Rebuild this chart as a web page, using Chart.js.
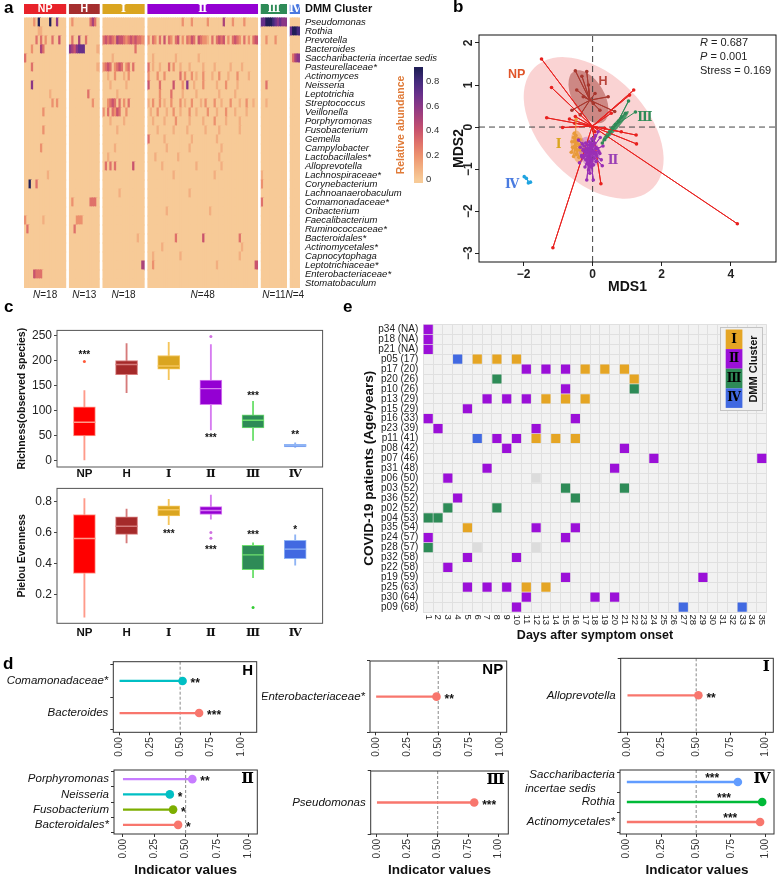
<!DOCTYPE html>
<html>
<head>
<meta charset="utf-8">
<title>DMM clusters of the oral microbiome</title>
<script src="https://cdn.jsdelivr.net/npm/chart.js@4.4.1/dist/chart.umd.min.js"></script>
<style>
  html, body { margin: 0; padding: 0; background: #fff; overflow: hidden; }
  #fig { position: relative; width: 780px; height: 875px; overflow: hidden; background: #fff; }
  #fig canvas { position: absolute; }
  .tag { position: absolute; font: bold 17px 'Liberation Sans', Arial, sans-serif; line-height: 1; color: #000; }
</style>
</head>
<body>
<div id="fig">
  <canvas id="heat"></canvas>
  <canvas id="cbar"></canvas>
  <canvas id="nmds"></canvas>
  <canvas id="rich"></canvas>
  <canvas id="even"></canvas>
  <canvas id="visits"></canvas>
  <canvas id="dH"></canvas>
  <canvas id="dII"></canvas>
  <canvas id="dNP"></canvas>
  <canvas id="dIII"></canvas>
  <canvas id="dI"></canvas>
  <canvas id="dIV"></canvas>
  <div class="tag" style="left:4px;top:-1px">a</div>
  <div class="tag" style="left:453px;top:-2px">b</div>
  <div class="tag" style="left:4px;top:298px">c</div>
  <div class="tag" style="left:3px;top:655px">d</div>
  <div class="tag" style="left:343px;top:298px">e</div>
</div>
<script>
// ---------------- data ----------------
const clusterNames = ['NP', 'H', 'Ⅰ', 'Ⅱ', 'Ⅲ', 'Ⅳ'];
const clusterSizes = [18, 13, 18, 48, 11, 4];
const clusterColors = ['#E8222A', '#A52F2F', '#DAA520', '#9400D3', '#2E8B57', '#4A78E0'];

// panel a: taxa and relative abundance per sample (one char per sample, digit = tenths, '.' = ~0)
const heatSpecies = ['Pseudomonas', 'Rothia', 'Prevotella', 'Bacteroides', 'Saccharibacteria incertae sedis',
  'Pasteurellaceae*', 'Actinomyces', 'Neisseria', 'Leptotrichia', 'Streptococcus', 'Veillonella',
  'Porphyromonas', 'Fusobacterium', 'Gemella', 'Campylobacter', 'Lactobacillales*', 'Alloprevotella',
  'Lachnospiraceae*', 'Corynebacterium', 'Lachnoanaerobaculum', 'Comamonadaceae*', 'Oribacterium',
  'Faecalibacterium', 'Ruminococcaceae*', 'Bacteroidales*', 'Actinomycetales*', 'Capnocytophaga',
  'Leptotrichiaceae*', 'Enterobacteriaceae*', 'Stomatobaculum'];
const heatRows = [
  '....2.9....9..6...|.2.......353.|..................|...............2...2......2......5...2....2.....|77999876766|....',
  '......11..........|.............|..................|................................................|...........|7998',
  '.....3.3.2..3..4..|.3..5..3.....|343432544323434332|2.32.3.4.32.34.2.3243.43221.3.3434.2.3432.3.2.34|..2...2....|....',
  '...2...53.........|6546777.....1|..............3...|................................................|...........|....',
  '3.................|.............|....1.............|..1.........1.........1.........................|...........|.356',
  '...3..............|............1|2343.2343.23.3....|3.1..1...3.2..1...1.....1....1......1....1.....|...........|....',
  '..................|.............|..1..2...1.2......|2...2..2......3.2..2.1..2...1..2...1...2....1..|...........|....',
  '...6..............|.............|...1......1.......|4....3.....4...2.6..1...2.....1...2....1.......|..3........|....',
  '...........1......|........3....|......1...........|.....2....3....1.....1.........1......1........|...........|....',
  '............2.2...|..........2..|..2343.3.2.3......|1.2..2.1..2...2.1..2...1.2...2..1...2...1..2..1.|..1........|....',
  '........2.........|.............|2.3.3243..2.......|.1..2...1..2..1...2..1....2...1...2...1....1...|...........|....',
  '..................|.............|...1.....1........|..1....1....2.....1.....1....2....1.....1......|...........|....',
  '........2.........|.............|......1...........|....1......1.....1.......1.....1........1......|...........|....',
  '..................|.............|..................|3......1...........1..........1................|...........|....',
  '.......2..........|.............|.....1............|........1.........1.............1...............|...........|....',
  '..................|.............|..1...............|...1.........1.................1................|...........|....',
  '..................|.............|.3.3.3.......4....|......1..............1..........1...............|...........|....',
  '..........1.......|.............|..................|...........1.................1..................|1..........|....',
  '..9..3............|.............|..................|................................................|2..........|....',
  '..................|.............|.......1..........|..................1.............................|...........|....',
  '..................|.2.......333.|..................|................................................|3..........|....',
  '..................|.............|..................|........1..................1....................|...........|....',
  '2.......1.........|...222.......|..................|................................................|...........|....',
  '.3................|..3..........|..................|................................................|...........|....',
  '..................|.............|...............1..|............3...........4...............3.......|...........|....',
  '..................|.............|..................|......1..................................1......|...........|....',
  '..................|.............|..................|..1...........1.........................1.......|...........|....',
  '..................|.............|.................5|..2...........................1................4|...........|....',
  '....4333..........|.............|..................|................................................|...........|....',
  '..................|.............|..................|................................................|...........|....'
];
const heatStops = ['#F7CA97', '#F2AE80', '#EC906E', '#DF716A', '#C9536D', '#AA4379', '#8A3786', '#67308A', '#442A7C', '#211F58'];
const cbarTicks = [0, 0.2, 0.4, 0.6, 0.8];

// panel b: NMDS coordinates per group, group centroids and 95% ellipses
const nmdsNP = [[-1.48, 1.62], [-1.19, 0.94], [-1.33, 0.22], [-0.87, -0.01], [-0.67, 0.19], [-0.50, 0.25],
  [-0.52, 0.09], [1.19, 0.88], [1.07, 0.76], [0.54, 0.33], [1.26, -0.19], [1.27, -0.40], [4.19, -2.30],
  [-1.15, -2.87], [0.24, -1.35], [0.07, -0.11], [0.35, -0.03], [0.83, -0.11]];
const nmdsH = [[-0.50, 1.34], [-0.31, 1.21], [-0.17, 1.32], [-0.46, 0.88], [-0.60, 0.40], [-0.36, 0.29],
  [-0.12, 1.00], [0.07, 0.80], [0.45, 0.72], [0.64, 0.37], [0.21, 0.40], [-0.27, 0.72], [0.02, 0.56]];
const nmdsI = [[-0.55, -0.25], [-0.48, -0.20], [-0.42, -0.28], [-0.60, -0.35], [-0.52, -0.33], [-0.45, -0.38],
  [-0.38, -0.42], [-0.58, -0.48], [-0.50, -0.52], [-0.44, -0.55], [-0.36, -0.30], [-0.62, -0.60],
  [-0.47, -0.65], [-0.40, -0.72], [-0.55, -0.70], [-0.35, -0.55], [-0.53, -0.15], [-0.48, 0.18]];
const nmdsII = [[-0.30, -0.40], [-0.25, -0.45], [-0.20, -0.38], [-0.15, -0.42], [-0.10, -0.35], [-0.05, -0.40],
  [0.00, -0.45], [0.05, -0.38], [0.10, -0.48], [0.15, -0.52], [-0.28, -0.55], [-0.22, -0.60], [-0.18, -0.52],
  [-0.12, -0.58], [-0.06, -0.55], [0.02, -0.60], [0.08, -0.62], [0.12, -0.68], [0.18, -0.58], [-0.32, -0.68],
  [-0.26, -0.72], [-0.20, -0.78], [-0.14, -0.70], [-0.08, -0.75], [-0.02, -0.80], [0.04, -0.74], [0.10, -0.82],
  [-0.16, -0.88], [-0.10, -0.92], [-0.04, -0.95], [0.02, -0.90], [-0.22, -0.95], [-0.17, -1.26], [0.02, -1.26],
  [-0.08, -1.10], [0.28, -0.92], [0.21, -0.63], [0.16, -0.11], [0.22, -0.25], [-0.31, -0.71], [-0.41, -0.31],
  [-0.36, -0.48], [0.25, -0.78], [-0.12, -1.02], [0.30, -0.45], [-0.02, -0.28], [0.08, -0.20], [-0.38, -0.85]];
const nmdsIII = [[0.28, -0.38], [0.35, -0.30], [0.42, -0.22], [0.50, -0.12], [0.58, -0.03], [0.66, 0.06],
  [0.75, 0.14], [0.84, 0.24], [0.95, 0.33], [1.04, 0.62], [1.24, 0.36]];
const nmdsIV = [[-1.98, -1.18], [-1.92, -1.22], [-1.86, -1.33], [-1.80, -1.31]];
const nmdsCentroids = [[-0.01, 0.02], [-0.08, 0.64], [-0.50, -0.39], [-0.08, -0.59], [0.69, 0.06], [-1.89, -1.26]];
const nmdsEllipses = [
  { c: [0.03, -0.02], u: [1.72, -1.43], v: [1.07, 0.89], fill: 'rgba(240,120,120,0.33)' },
  { c: [-0.12, 0.72], u: [0.43, -0.60], v: [0.39, 0.195], fill: 'rgba(150,45,35,0.45)' },
  { c: [-0.43, -0.47], u: [0.057, -0.39], v: [0.20, 0.012], fill: 'rgba(235,150,50,0.5)' },
  { c: [-0.10, -0.59], u: [0.086, -0.357], v: [0.30, 0.024], fill: 'rgba(160,60,190,0.35)' },
  { c: [0.66, 0.02], u: [0.38, 0.357], v: [0.063, -0.048], fill: 'rgba(46,139,87,0.85)' }
];
const nmdsXTicks = [-2, 0, 2, 4];
const nmdsYTicks = [-3, -2, -1, 0, 1, 2];

// panel c: box plot statistics per group
const boxGroups = ['NP', 'H', 'Ⅰ', 'Ⅱ', 'Ⅲ', 'Ⅳ'];
const richLow = [2, 136, 162, 62, 41, 27];
const richQ1 = [50, 172, 183, 112, 66, 28];
const richMed = [77, 192, 189, 144, 81, 31];
const richQ3 = [108, 200, 210, 161, 92, 33];
const richHigh = [140, 234, 236, 232, 119, 36];
const richOutliers = [[1, 198], [4, 248]];
const richStars = ['***', '', '', '***', '***', '**'];
const richStarAt = [214, 0, 0, 50, 133, 55];
const evenLow = [0.058, 0.533, 0.65, 0.685, 0.311, 0.39];
const evenQ1 = [0.337, 0.588, 0.705, 0.715, 0.361, 0.432];
const evenMed = [0.561, 0.64, 0.745, 0.74, 0.456, 0.493];
const evenQ3 = [0.715, 0.70, 0.77, 0.765, 0.517, 0.549];
const evenHigh = [0.816, 0.75, 0.812, 0.84, 0.533, 0.584];
const evenOutliers = [[4, 0.60], [4, 0.562], [5, 0.119]];
const evenStars = ['', '', '***', '***', '***', '*'];
const evenStarAt = [0, 0, 0.60, 0.497, 0.594, 0.624];

// panel e: patients, days and the DMM cluster of each sample
const patientIds = ['p34', 'p18', 'p21', 'p05', 'p17', 'p20', 'p10', 'p13', 'p15', 'p16', 'p23', 'p11', 'p08', 'p07',
  'p31', 'p06', 'p03', 'p36', 'p02', 'p04', 'p35', 'p24', 'p28', 'p32', 'p22', 'p19', 'p25', 'p30', 'p09'];
const patientAges = ['NA', 'NA', 'NA', '17', '20', '26', '26', '29', '29', '33', '39', '41', '42', '46',
  '48', '50', '52', '52', '52', '53', '54', '57', '57', '58', '58', '59', '63', '64', '68'];
const dayLabels = ['1', '2', '3', '4', '5', '6', '7', '8', '9', '10', '11', '12', '13', '14', '15', '16', '17', '18',
  '19', '20', '21', '22', '23', '24', '25', '26', '27', '28', '29', '30', '31', '32', '33', '34', '35'];
const samplesI = [['p05', 6], ['p05', 8], ['p05', 10], ['p17', 17], ['p17', 19], ['p17', 21], ['p20', 22],
  ['p13', 13], ['p13', 15], ['p13', 17], ['p11', 12], ['p11', 14], ['p11', 16], ['p35', 5], ['p25', 11], ['p25', 13]];
const samplesII = [['p34', 1], ['p18', 1], ['p21', 1], ['p17', 11], ['p17', 13], ['p17', 15], ['p10', 15],
  ['p13', 7], ['p13', 9], ['p13', 11], ['p15', 5], ['p16', 1], ['p16', 16], ['p23', 2], ['p23', 12], ['p11', 8],
  ['p11', 10], ['p08', 9], ['p08', 21], ['p07', 24], ['p07', 35], ['p31', 7], ['p31', 20], ['p06', 3], ['p36', 4],
  ['p35', 12], ['p35', 16], ['p24', 1], ['p24', 15], ['p32', 5], ['p32', 10], ['p22', 3], ['p19', 15], ['p19', 29],
  ['p25', 5], ['p25', 7], ['p25', 9], ['p30', 11], ['p30', 18], ['p30', 20], ['p09', 10]];
const samplesIII = [['p20', 8], ['p10', 22], ['p03', 15], ['p03', 21], ['p36', 16], ['p02', 3], ['p02', 8],
  ['p04', 1], ['p04', 2], ['p28', 1]];
const samplesIV = [['p05', 4], ['p11', 6], ['p09', 27], ['p09', 33]];
const samplesNA = [['p06', 12], ['p28', 6], ['p28', 12]];

// panel d: indicator taxa
const IND_CUT = 0.5;
const indTicks = [0, 0.25, 0.5, 0.75, 1];
const indH = ['Comamonadaceae*', 'Bacteroides'];
const valH = [0.52, 0.656];
const starH = ['**', '***'];
const indII = ['Porphyromonas', 'Neisseria', 'Fusobacterium', 'Bacteroidales*'];
const valII = [0.553, 0.374, 0.40, 0.44];
const starII = ['**', '*', '*', '*'];
const indNP = ['Enterobacteriaceae*'];
const valNP = [0.486];
const starNP = ['**'];
const indIII = ['Pseudomonas'];
const valIII = [0.80];
const starIII = ['***'];
const indI = ['Alloprevotella'];
const valI = [0.516];
const starI = ['**'];
const indIV = ['Saccharibacteria incertae sedis', 'Rothia', 'Actinomycetales*'];
const valIV = [0.80, 0.975, 0.96];
const starIV = ['***', '***', '***'];

// ---------------- helpers ----------------
const SANS = "'Liberation Sans', Arial, Helvetica, sans-serif";
const ROMAN = "'DejaVu Serif', 'Noto Sans CJK SC', serif";
const isRoman = s => /[\u2160-\u216B]/.test(s);
const famOf = s => isRoman(s) ? ROMAN : SANS;
const f = (size, weight, style, family) => ({ family: family || SANS, size, weight: weight || 'normal', style: style || 'normal', lineHeight: 1.2 });
const css = (size, weight, style, family) => `${style || 'normal'} ${weight || 'normal'} ${size}px ${family || SANS}`;

Chart.defaults.font.family = SANS;
Chart.defaults.color = '#222';
Chart.defaults.animation = false;
Chart.defaults.responsive = false;
Chart.defaults.events = [];
Chart.defaults.plugins.legend.display = false;
Chart.defaults.plugins.tooltip.enabled = false;

function place(id, cv, area) {
  const el = document.getElementById(id);
  el.width = cv[2] - cv[0];
  el.height = cv[3] - cv[1];
  el.style.left = cv[0] + 'px';
  el.style.top = cv[1] + 'px';
  return { left: area[0] - cv[0], top: area[1] - cv[1], right: cv[2] - area[2], bottom: cv[3] - area[3] };
}
function fixAxis(size) {
  return s => {
    if (s.isHorizontal()) s.height = size; else s.width = size;
    s.paddingLeft = s.paddingRight = s.paddingTop = s.paddingBottom = 0;
  };
}
let pluginNo = 0;
function notes(items) {
  return {
    id: 'notes' + (pluginNo++),
    afterDatasetsDraw(chart) {
      const ctx = chart.ctx;
      items.forEach(n => {
        if (!n.text && !n.parts) return;
        const xs = chart.scales[n.xAxis || 'x'], ys = chart.scales[n.yAxis || 'y'];
        const px = (n.px !== undefined ? n.px : xs.getPixelForValue(n.x)) + (n.dx || 0);
        const py = (n.py !== undefined ? n.py : ys.getPixelForValue(n.y)) + (n.dy || 0);
        const parts = n.parts || [{ text: n.text, font: n.font }];
        ctx.save();
        ctx.translate(px, py);
        if (n.rotate) ctx.rotate(n.rotate);
        ctx.fillStyle = n.color || '#111';
        ctx.textBaseline = 'middle';
        ctx.textAlign = 'left';
        let w = 0;
        parts.forEach(p => { ctx.font = p.font; w += ctx.measureText(p.text).width; });
        let x0 = n.align === 'left' ? 0 : n.align === 'right' ? -w : -w / 2;
        parts.forEach(p => { ctx.font = p.font; ctx.fillText(p.text, x0, 0); x0 += ctx.measureText(p.text).width; });
        ctx.restore();
      });
    }
  };
}
function frame(color, width) {
  return {
    id: 'frame' + (pluginNo++),
    afterDatasetsDraw(chart) {
      const { ctx, chartArea: a } = chart;
      ctx.save();
      ctx.strokeStyle = color;
      ctx.lineWidth = width;
      ctx.strokeRect(a.left, a.top, a.right - a.left, a.bottom - a.top);
      ctx.restore();
    }
  };
}
function hexRgb(h) { return [1, 3, 5].map(i => parseInt(h.slice(i, i + 2), 16)); }
function heatColor(v) {
  const t = Math.max(0, Math.min(0.9, v)) / 0.1;
  const i = Math.min(8, Math.floor(t)), k = t - i;
  const a = hexRgb(heatStops[i]), b = hexRgb(heatStops[i + 1]);
  return `rgb(${a.map((c, j) => Math.round(c + (b[j] - c) * k)).join(',')})`;
}
function parseRow(s) {
  const segs = s.split('|'), out = [];
  clusterSizes.forEach((n, g) => {
    const seg = (segs[g] || '').padEnd(n, '.').slice(0, n);
    for (const ch of seg) out.push(ch === '.' ? 0 : Number(ch) / 10);
  });
  return out;
}

// ---------------- panel a: heat map ----------------
const HEAT_GAP = 1.7;
const colX = [], colGroup = [], groupSpan = [];
let xPos = 0;
clusterSizes.forEach((n, g) => {
  groupSpan.push([xPos, xPos + n]);
  for (let i = 0; i < n; i++) { colX.push(xPos + i + 0.5); colGroup.push(g); }
  xPos += n + HEAT_GAP;
});
const heatXMax = xPos - HEAT_GAP;
const heatCells = [];
heatRows.forEach((row, r) => {
  parseRow(row).forEach((v, c) => heatCells.push({ x: colX[c], y: [r - 0.06, r + 1.06], v }));
});
colX.forEach((x, c) => heatCells.push({ x, y: [-1.55, -0.45], g: colGroup[c] }));
const heatNotes = [];
groupSpan.forEach(([a, b], g) => {
  const mid = (a + b) / 2;
  heatNotes.push({ x: mid, y: -1, text: clusterNames[g], color: '#fff', font: css(10.5, 'bold', 'normal', famOf(clusterNames[g])) });
  heatNotes.push({ x: mid, py: 295, color: '#222',
    parts: [{ text: 'N', font: css(10, 'normal', 'italic') }, { text: '=' + clusterSizes[g], font: css(10) }] });
});

const hg = place('heat', [0, 0, 450, 300], [24, 3.6, 300, 288]);
new Chart('heat', {
  type: 'bar',
  data: { datasets: [{
    data: heatCells,
    backgroundColor: c => (c.raw && c.raw.g !== undefined) ? clusterColors[c.raw.g] : heatColor(c.raw ? c.raw.v : 0),
    borderWidth: 0, barPercentage: 1.5, categoryPercentage: 1, grouped: false
  }] },
  options: {
    layout: { padding: { left: hg.left, top: hg.top, right: 0, bottom: hg.bottom } },
    scales: {
      x: { type: 'linear', display: false, min: -0.25, max: heatXMax + 0.25, offset: false, grid: { offset: false } },
      y: { type: 'linear', position: 'right', min: -1.6, max: heatSpecies.length, reverse: true, offset: false,
        afterBuildTicks: s => { s.ticks = [{ value: -1 }].concat(heatSpecies.map((_, i) => ({ value: i + 0.5 }))); },
        afterFit: fixAxis(hg.right),
        ticks: { autoSkip: false, padding: 5, color: '#111',
          callback: (v, i) => i === 0 ? 'DMM Cluster' : heatSpecies[i - 1],
          font: c => c.index === 0 ? f(11, 'bold') : f(9.5, 'normal', 'italic') },
        grid: { display: false, drawTicks: false }, border: { display: false } }
    }
  },
  plugins: [notes(heatNotes)]
});

const cg = place('cbar', [390, 55, 450, 195], [414, 67, 423, 183]);
new Chart('cbar', {
  type: 'bar',
  data: { labels: [''], datasets: [{
    data: [[-0.03, 0.92]],
    backgroundColor: c => {
      const ch = c.chart;
      if (!ch.chartArea) return heatStops[0];
      const y = ch.scales.y;
      const grad = ch.ctx.createLinearGradient(0, y.getPixelForValue(0), 0, y.getPixelForValue(0.9));
      heatStops.forEach((col, i) => grad.addColorStop(i / (heatStops.length - 1), col));
      return grad;
    },
    borderWidth: 0, barPercentage: 1, categoryPercentage: 1
  }] },
  options: {
    layout: { padding: { left: 0, top: cg.top, right: 0, bottom: cg.bottom } },
    scales: {
      x: { display: false },
      y: { type: 'linear', position: 'right', min: -0.03, max: 0.92,
        afterBuildTicks: s => { s.ticks = cbarTicks.map(v => ({ value: v })); },
        afterFit: fixAxis(cg.right),
        ticks: { padding: 3, color: '#333', font: f(9.5), callback: v => v === 0 ? '0' : v.toFixed(1) },
        grid: { display: false, drawTicks: false }, border: { display: false } },
      y2: { type: 'linear', position: 'left', afterFit: fixAxis(cg.left),
        ticks: { display: false }, grid: { display: false, drawTicks: false }, border: { display: false },
        title: { display: true, text: 'Relative abundance', color: '#E07B39', font: f(10.5, 'bold'), padding: { top: 4.7, bottom: 0 } } }
    }
  }
});

// ---------------- panel b: NMDS ----------------
const nmdsGroups = [nmdsNP, nmdsH, nmdsI, nmdsII, nmdsIII, nmdsIV];
const nmdsLine = ['#E8201E', '#A8372E', '#E89A3A', '#9A2FB5', '#2E8B57', '#1FA3E0'];
const nmdsText = ['#E0552A', '#B8433A', '#DAA520', '#9A3FB5', '#2E8B57', '#4A7BE0'];
const nmdsOrder = [4, 5, 3, 2, 1, 1];
const nmdsLabelAt = [[-2.2, 1.26], [0.30, 1.08], [-0.98, -0.43], [0.59, -0.79], [1.51, 0.23], [-2.33, -1.38]];
const B_X = [-3.29, 5.31], B_Y = [-3.21, 2.19];
const minus = v => v < 0 ? '\u2212' + Math.abs(v) : String(v);

const ellipsePlugin = {
  id: 'ellipses',
  beforeDatasetsDraw(chart) {
    const { ctx, scales: { x, y }, chartArea: a } = chart;
    ctx.save();
    ctx.beginPath();
    ctx.rect(a.left, a.top, a.right - a.left, a.bottom - a.top);
    ctx.clip();
    nmdsEllipses.forEach(e => {
      const cx = x.getPixelForValue(e.c[0]), cy = y.getPixelForValue(e.c[1]);
      const ux = x.getPixelForValue(e.c[0] + e.u[0]) - cx, uy = y.getPixelForValue(e.c[1] + e.u[1]) - cy;
      const vx = x.getPixelForValue(e.c[0] + e.v[0]) - cx, vy = y.getPixelForValue(e.c[1] + e.v[1]) - cy;
      ctx.save();
      ctx.transform(ux, uy, vx, vy, cx, cy);
      ctx.beginPath();
      ctx.arc(0, 0, 1, 0, Math.PI * 2);
      ctx.restore();
      ctx.fillStyle = e.fill;
      ctx.fill();
    });
    ctx.restore();
  }
};
// rotated y tick labels of panel b, centred on each tick
const nmdsYLabels = {
  id: 'nmdsYLabels',
  afterDraw(chart) {
    const { ctx, chartArea: a, scales: { y } } = chart;
    ctx.save();
    ctx.font = css(12, 'bold'); ctx.fillStyle = '#222'; ctx.textAlign = 'center'; ctx.textBaseline = 'middle';
    nmdsYTicks.forEach(v => {
      ctx.save(); ctx.translate(a.left - 10, y.getPixelForValue(v)); ctx.rotate(-Math.PI / 2);
      ctx.fillText(minus(v), 0, 0); ctx.restore();
    });
    ctx.restore();
  }
};

const nmdsSets = nmdsGroups.map((pts, g) => ({
  type: 'line',
  data: pts.flatMap(p => [{ x: nmdsCentroids[g][0], y: nmdsCentroids[g][1] }, { x: p[0], y: p[1] }]),
  borderColor: nmdsLine[g], borderWidth: 1, tension: 0, fill: false,
  pointRadius: c => c.dataIndex % 2 ? 1.8 : 0, pointBackgroundColor: nmdsLine[g], pointBorderWidth: 0,
  order: nmdsOrder[g]
}));
nmdsSets.push({ type: 'line', data: [{ x: B_X[0], y: 0 }, { x: B_X[1], y: 0 }], borderColor: '#444', borderWidth: 1, borderDash: [6, 4], pointRadius: 0, order: 10 });
nmdsSets.push({ type: 'line', data: [{ x: 0, y: B_Y[0] }, { x: 0, y: B_Y[1] }], borderColor: '#444', borderWidth: 1, borderDash: [6, 4], pointRadius: 0, order: 10 });

const nmdsNotes = nmdsLabelAt.map((p, g) => ({ x: p[0], y: p[1], text: clusterNames[g], color: nmdsText[g], font: css(12.5, 'bold', 'normal', famOf(clusterNames[g])) }));
nmdsNotes.push({ px: 290, py: 43, align: 'left', color: '#222', parts: [{ text: 'R', font: css(11, 'normal', 'italic') }, { text: ' = 0.687', font: css(11) }] });
nmdsNotes.push({ px: 290, py: 57, align: 'left', color: '#222', parts: [{ text: 'P', font: css(11, 'normal', 'italic') }, { text: ' = 0.001', font: css(11) }] });
nmdsNotes.push({ px: 290, py: 71, align: 'left', color: '#222', text: 'Stress = 0.169', font: css(11) });

const ng = place('nmds', [410, 0, 780, 300], [479, 35, 779.5, 262]);
new Chart('nmds', {
  type: 'scatter',
  data: { datasets: nmdsSets },
  options: {
    layout: { padding: { left: 40, top: ng.top, right: ng.right, bottom: 0 } },
    scales: {
      x: { type: 'linear', min: B_X[0], max: B_X[1],
        afterBuildTicks: s => { s.ticks = nmdsXTicks.map(v => ({ value: v })); }, afterFit: fixAxis(ng.bottom),
        ticks: { callback: minus, font: f(12, 'bold'), color: '#222', padding: 1 },
        grid: { drawOnChartArea: false, tickLength: 4, color: '#222' }, border: { display: false },
        title: { display: true, text: 'MDS1', font: f(14, 'bold'), color: '#111', padding: { top: 0, bottom: 4.6 } } },
      y: { type: 'linear', min: B_Y[0], max: B_Y[1],
        afterBuildTicks: s => { s.ticks = nmdsYTicks.map(v => ({ value: v })); }, afterFit: fixAxis(ng.left - 40),
        ticks: { display: false },
        grid: { drawOnChartArea: false, tickLength: 4, color: '#222' }, border: { display: false },
        title: { display: true, text: 'MDS2', font: f(14, 'bold'), color: '#111', padding: { top: 0.5, bottom: 0 } } }
    }
  },
  plugins: [ellipsePlugin, frame('#111', 1), notes(nmdsNotes), nmdsYLabels]
});

// ---------------- panel c: box plots ----------------
const boxFill = ['#FF0000', '#A52A2A', '#DAA520', '#9400D3', '#2E8B57', '#4169E1'];
const boxLine = ['#FF9A8A', '#D67B7B', '#F5C55A', '#D67CF0', '#6EE06E', '#8FB4F5'];
const boxOut = ['#FF5A3A', '#C05050', '#E0A020', '#D070E0', '#33CC33', '#6090F0'];

function boxPlot(id, cv, area, s) {
  const g = place(id, cv, area);
  const items = s.stars.map((t, i) => ({ x: i + 1, y: s.starAt[i], dy: 2, text: t, font: css(10, 'bold'), color: '#111' }));
  new Chart(id, {
    type: 'bar',
    data: { datasets: [
      { type: 'scatter', data: s.med.map((v, i) => ({ x: i + 1, y: v })), pointStyle: 'line', pointRadius: 11,
        borderColor: boxLine, borderWidth: 1.4, order: 1 },
      { type: 'scatter', data: s.out.map(o => ({ x: o[0], y: o[1] })), pointRadius: 1.5,
        backgroundColor: s.out.map(o => boxOut[o[0] - 1]), borderWidth: 0, order: 1 },
      { type: 'bar', data: s.q1.map((v, i) => ({ x: i + 1, y: [v, s.q3[i]] })), backgroundColor: boxFill,
        borderColor: boxLine, borderWidth: 1, borderSkipped: false, barThickness: 22, grouped: false, order: 2 },
      { type: 'bar', data: s.low.map((v, i) => ({ x: i + 1, y: [v, s.high[i]] })), backgroundColor: boxLine,
        borderWidth: 0, barThickness: 1.2, grouped: false, order: 3 }
    ] },
    options: {
      layout: { padding: { left: 0, top: g.top, right: g.right, bottom: 0 } },
      scales: {
        x: { type: 'linear', min: 0.35, max: 6.65, offset: false,
          afterBuildTicks: sc => { sc.ticks = boxGroups.map((_, i) => ({ value: i + 1 })); }, afterFit: fixAxis(g.bottom),
          ticks: { callback: (v, i) => boxGroups[i], color: '#111', padding: s.xPad, autoSkip: false,
            font: c => f(11.5, 'bold', 'normal', famOf(boxGroups[c.index] || '')) },
          grid: { display: false, drawTicks: false, offset: false }, border: { display: false } },
        y: { type: 'linear', min: s.yMin, max: s.yMax, afterFit: fixAxis(g.left),
          ticks: { stepSize: s.step, includeBounds: false, font: f(12), color: '#222', padding: 2 },
          grid: { drawOnChartArea: false, tickLength: 3, color: '#444' }, border: { display: false },
          title: { display: true, text: s.title, font: f(10.5, 'bold'), color: '#111', padding: { top: 15.4, bottom: 0 } } }
      }
    },
    plugins: [frame('#555', 1), notes(items)]
  });
}
boxPlot('rich', [0, 318, 335, 480], [57, 325, 329, 467], {
  low: richLow, q1: richQ1, med: richMed, q3: richQ3, high: richHigh, out: richOutliers,
  stars: richStars, starAt: richStarAt, yMin: -12, yMax: 260, step: 50, title: 'Richness(observed species)', xPad: 0
});
boxPlot('even', [0, 476, 335, 642], [57, 480.7, 329, 623.3], {
  low: evenLow, q1: evenQ1, med: evenMed, q3: evenQ3, high: evenHigh, out: evenOutliers,
  stars: evenStars, starAt: evenStarAt, yMin: 0.018, yMax: 0.882, step: 0.2, title: 'Pielou Evenness', xPad: 2.5
});

// ---------------- panel e: samples per patient and day ----------------
const patientLabels = patientIds.map((p, i) => `${p} (${patientAges[i]})`);
const labelOf = id => patientLabels[patientIds.indexOf(id)];
const visitColors = ['#E5A524', '#9B10D8', '#2E8B57', '#4169E1', '#DCDCDC'];
const visitSets = [samplesI, samplesII, samplesIII, samplesIV, samplesNA].map((list, k) => ({
  data: list.map(s => ({ x: String(s[1]), y: labelOf(s[0]) })),
  backgroundColor: visitColors[k], pointStyle: 'rect', pointRadius: 6.5, borderWidth: 0
}));
const gridBg = {
  id: 'gridBg',
  beforeDraw(chart) {
    const { ctx, chartArea: a } = chart;
    ctx.save(); ctx.fillStyle = '#F2F2F2'; ctx.fillRect(a.left, a.top, a.right - a.left, a.bottom - a.top); ctx.restore();
  }
};
const dayTicks = {
  id: 'dayTicks',
  afterDraw(chart) {
    const { ctx, chartArea: a, scales: { x } } = chart;
    ctx.save();
    ctx.font = css(9.5); ctx.fillStyle = '#222'; ctx.textAlign = 'left'; ctx.textBaseline = 'middle';
    dayLabels.forEach((d, i) => {
      ctx.save(); ctx.translate(x.getPixelForValue(i), a.bottom + 2.5); ctx.rotate(Math.PI / 2); ctx.fillText(d, 0, 0); ctx.restore();
    });
    ctx.restore();
  }
};
const visitLegend = {
  id: 'visitLegend',
  afterDatasetsDraw(chart) {
    const ctx = chart.ctx;
    const L = 380, T = 9, W = 43, H = 84;
    ctx.save();
    ctx.fillStyle = '#F0F0F0'; ctx.fillRect(L, T, W, H);
    ctx.strokeStyle = '#C4C4C4'; ctx.lineWidth = 1; ctx.strokeRect(L + 0.5, T + 0.5, W - 1, H - 1);
    clusterNames.slice(2).forEach((nm, i) => {
      const y = T + 2.5 + i * 19.6;
      ctx.fillStyle = visitColors[i]; ctx.fillRect(L + 5.7, y, 16.7, 19.6);
      ctx.fillStyle = '#000'; ctx.font = css(12, 'bold', 'normal', ROMAN);
      ctx.textAlign = 'center'; ctx.textBaseline = 'middle';
      ctx.fillText(nm, L + 14, y + 10);
    });
    ctx.translate(L + 33.5, T + 42); ctx.rotate(-Math.PI / 2);
    ctx.font = css(11, 'bold'); ctx.fillStyle = '#111'; ctx.textAlign = 'center'; ctx.textBaseline = 'middle';
    ctx.fillText('DMM Cluster', 0, 0);
    ctx.restore();
  }
};
const eg = place('visits', [340, 318, 780, 650], [423.3, 324.3, 766.7, 612]);
new Chart('visits', {
  type: 'scatter',
  data: { datasets: visitSets },
  options: {
    layout: { padding: { left: 0, top: eg.top, right: eg.right, bottom: 0 } },
    scales: {
      x: { type: 'category', labels: dayLabels, offset: true, afterFit: fixAxis(eg.bottom),
        ticks: { display: false, autoSkip: false },
        grid: { offset: true, color: '#E0E0E0', drawTicks: false }, border: { display: false },
        title: { display: true, text: 'Days after symptom onset', font: f(12.5, 'bold'), color: '#111', padding: { top: 0, bottom: 6.5 } } },
      y: { type: 'category', labels: patientLabels, offset: true, afterFit: fixAxis(eg.left),
        ticks: { autoSkip: false, font: f(10), color: '#222', padding: 5 },
        grid: { offset: true, color: '#E0E0E0', drawTicks: false }, border: { display: false },
        title: { display: true, text: 'COVID-19 patients (Age/years)', font: f(13.5, 'bold'), color: '#111', padding: { top: 20.9, bottom: 0 } } }
    }
  },
  plugins: [gridBg, dayTicks, visitLegend]
});

// ---------------- panel d: indicator taxa ----------------
const hue2 = ['#00BFC4', '#F8766D'];
const hue4 = ['#C77CFF', '#00BFC4', '#7CAE00', '#F8766D'];
const hue3 = ['#619CFF', '#00BA38', '#F8766D'];
const tickName = s => s.length > 24 ? [s.slice(0, s.indexOf(' ')), s.slice(s.indexOf(' ') + 1) + '\u00A0'.repeat(6)] : s;

function lolli(id, cv, area, names, vals, cols, stars, o) {
  const g = place(id, cv, area);
  const n = names.length;
  const items = names.map((nm, i) => o.starX
    ? { x: o.starX[i], y: i + 1, dy: -3.5, text: stars[i], font: css(12, 'bold'), color: '#111' }
    : { x: vals[i], y: i + 1, dx: 8, dy: 3, align: 'left', text: stars[i], font: css(12, 'bold'), color: '#111' });
  items.push({ px: area[2] - cv[0] - 3.5, py: area[1] - cv[1] + 9, align: 'right', text: o.tag, color: '#000',
    font: css(15, 'bold', 'normal', famOf(o.tag)) });
  new Chart(id, {
    type: 'bar',
    data: { datasets: [
      { type: 'scatter', data: vals.map((v, i) => ({ x: v, y: i + 1 })), backgroundColor: cols, pointRadius: 4.3, borderWidth: 0, order: 1 },
      { type: 'bar', indexAxis: 'y', data: vals.map((v, i) => ({ x: v, y: i + 1 })), backgroundColor: cols, barThickness: 1.6, borderWidth: 0, order: 2 },
      { type: 'line', data: [{ x: IND_CUT, y: 0.4 }, { x: IND_CUT, y: n + 0.6 }], borderColor: '#888', borderWidth: 1, borderDash: [3, 2], pointRadius: 0, order: 3 }
    ] },
    options: {
      layout: { padding: { left: 0, top: g.top, right: g.right, bottom: 0 } },
      scales: {
        x: { type: 'linear', min: o.xmin, max: o.xmax, offset: false,
          afterBuildTicks: s => { s.ticks = indTicks.map(v => ({ value: v })); }, afterFit: fixAxis(g.bottom),
          ticks: { callback: v => v.toFixed(2), minRotation: 90, maxRotation: 90, font: f(10), color: '#333', padding: 2 },
          grid: { drawOnChartArea: false, tickLength: 3, color: '#333', offset: false }, border: { display: false },
          title: o.title ? { display: true, text: 'Indicator values', font: f(13.5, 'bold'), color: '#111', padding: { top: 0, bottom: 0 } } : { display: false } },
        y: { type: 'linear', min: 0.4, max: n + 0.6, reverse: true, offset: false,
          afterBuildTicks: s => { s.ticks = names.map((_, i) => ({ value: i + 1 })); }, afterFit: fixAxis(g.left),
          ticks: { callback: (v, i) => tickName(names[i]), font: f(11.5, 'normal', 'italic'), color: '#111', padding: 2, autoSkip: false },
          grid: { drawOnChartArea: false, tickLength: 3, color: '#333' }, border: { display: false } }
      }
    },
    plugins: [frame('#333', 1), notes(items)]
  });
}
lolli('dH', [0, 652, 262, 760], [113.3, 661.7, 256.7, 732.3], indH, valH, hue2, starH, { xmin: -0.05, xmax: 1.13, tag: 'H' });
lolli('dII', [0, 760, 262, 878], [114, 770, 257.3, 834], indII, valII, hue4, starII, { xmin: -0.07, xmax: 1.07, tag: 'Ⅱ', title: true });
lolli('dNP', [262, 652, 515, 760], [370, 661, 506.7, 732.3], indNP, valNP, ['#F8766D'], starNP, { xmin: -0.048, xmax: 1.05, tag: 'NP' });
lolli('dIII', [262, 760, 515, 878], [370.7, 771, 508.3, 834], indIII, valIII, ['#F8766D'], starIII, { xmin: -0.05, xmax: 1.08, tag: 'Ⅲ', title: true });
lolli('dI', [515, 650, 780, 760], [620.7, 658.3, 773.3, 732.3], indI, valI, ['#F8766D'], starI, { xmin: -0.048, xmax: 1.06, tag: 'Ⅰ' });
lolli('dIV', [515, 760, 780, 878], [620, 770, 774, 834], indIV, valIV, hue3, starIV, { xmin: -0.048, xmax: 1.06, tag: 'Ⅳ', title: true, starX: [0.615, 0.70, 0.745] });
</script>
</body>
</html>
